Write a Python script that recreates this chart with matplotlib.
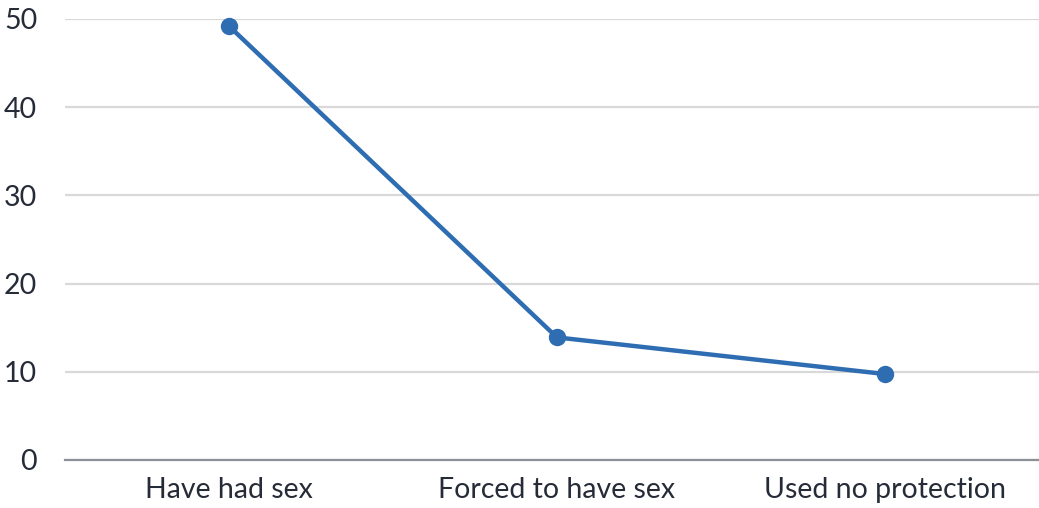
import matplotlib
matplotlib.use("Agg")
import matplotlib.pyplot as plt

categories = ["Have had sex", "Forced to have sex", "Used no protection"]
values = [49.2, 13.9, 9.75]
yticks = [0, 10, 20, 30, 40, 50]

plt.rcParams['font.family'] = ['Lato', 'DejaVu Sans']

fig = plt.figure(figsize=(10.39, 5.08), dpi=100)
ax = fig.add_axes([65/1039, 48/508, 1 - 65/1039, 441/508])

x = list(range(len(categories)))
ax.plot(x, values, color='#2e6db2', linewidth=3.2, marker='o', markersize=11.5,
        clip_on=False, zorder=3, solid_capstyle='round')

ax.set_xlim(-0.5, 2.47)
ax.set_ylim(0, 50)
ax.set_yticks(yticks)
ax.set_xticks(x)
ax.set_xticklabels(categories)
ax.grid(axis='y', color='#d9d9d9', linewidth=1.6)
ax.set_axisbelow(True)
for s in ['top', 'right', 'left']:
    ax.spines[s].set_visible(False)
ax.spines['bottom'].set_color('#8c9199')
ax.spines['bottom'].set_linewidth(1.6)
ax.spines['bottom'].set_zorder(2)
ax.tick_params(axis='both', length=0, labelsize=20.5, colors='#262b38')
ax.tick_params(axis='y', pad=20)
ax.tick_params(axis='x', pad=12)

fig.savefig("out.png", dpi=100)
